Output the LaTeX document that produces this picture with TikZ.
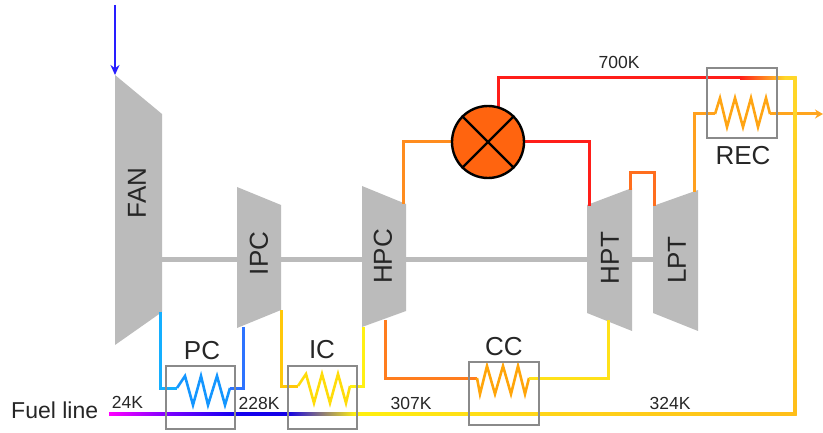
\documentclass[tikz,border=0pt]{standalone}
\usepackage{fontspec}
\setmainfont{Liberation Sans}
\usetikzlibrary{arrows.meta}
\definecolor{machine}{HTML}{BBBBBB}
\definecolor{boxgray}{HTML}{8A8A8A}
\definecolor{labelink}{HTML}{262626}
\tikzset{
  x=1pt,y=-1pt,
  machine/.style={fill=machine,draw=none},
  shaft/.style={draw=machine,line width=5.5pt},
  hxbox/.style={draw=boxgray,line width=2.8pt,fill=none},
  pipe/.style={line width=3pt,line join=miter},
  coil/.style={line width=2.6pt,line join=miter},
  biglabel/.style={text=labelink,font=\fontsize{26}{28}\selectfont,inner sep=0pt},
  midlabel/.style={text=labelink,font=\fontsize{23}{25}\selectfont,inner sep=0pt},
  smalllabel/.style={text=labelink,font=\fontsize{17.5}{19}\selectfont,inner sep=0pt},
  rotlabel/.style={biglabel,rotate=90},
}
\newcommand{\fuelbar}[4]{\shade[left color=#3,right color=#4,draw=none] (#1,412.5) rectangle (#2,415.5);}
\newcommand{\topbar}[4]{\shade[left color=#3,right color=#4,draw=none] (#1,76.5) rectangle (#2,79.5);}
\begin{document}
\begin{tikzpicture}
\useasboundingbox (0,0) rectangle (823,433);
% shaft
\coordinate (shaftL) at (158,259.5);
\coordinate (shaftR) at (655,259.5);
\draw[shaft] (shaftL) -- (shaftR);
% machines
\path[machine] (115,75) -- (162,114) -- (162,312) -- (115,345) -- cycle;
\path[machine] (237,187) -- (281,205) -- (281,310) -- (237,328) -- cycle;
\path[machine] (362,186) -- (406,204) -- (406,311) -- (362,327) -- cycle;
\path[machine] (587,205) -- (632,188) -- (632,331) -- (587,313) -- cycle;
\path[machine] (653,206) -- (698,190) -- (698,331) -- (653,313) -- cycle;
\node[rotlabel] (fan) at (137,193) {FAN};
\node[rotlabel] (ipc) at (259,253.5) {IPC};
\node[rotlabel] (hpc) at (383,256.5) {HPC};
\node[rotlabel] (hpt) at (610,258) {HPT};
\node[rotlabel] (lpt) at (677,260) {LPT};
% inlet
\coordinate (inlet) at (115,5);
\coordinate (fanin) at (115,75);
\draw[line width=2.6pt,color={rgb,255:red,40;green,30;blue,255},-{Stealth[length=10pt,width=9pt]}] (inlet) -- (fanin);
% PC loop
\draw[pipe,color={rgb,255:red,20;green,175;blue,255}] (160,312) -- (160,388) -- (177,388);
\draw[coil,color={rgb,255:red,20;green,150;blue,255}] (177,388) -- (185,376) -- (193,405) -- (201,376) -- (208,405) -- (217,376) -- (225,405) -- (230,388);
\draw[pipe,color={rgb,255:red,45;green,115;blue,255}] (230,388) -- (243,388) -- (243,327);
% IC loop
\draw[pipe,color={rgb,255:red,255;green,200;blue,10}] (281,310) -- (281,386) -- (298,386);
\draw[coil,color={rgb,255:red,255;green,220;blue,10}] (298,386) -- (306,374) -- (314,403) -- (322,374) -- (330,403) -- (338,374) -- (346,403) -- (350,386);
\draw[pipe,color={rgb,255:red,255;green,240;blue,20}] (350,386) -- (363,386) -- (363,327);
% CC loop
\draw[pipe,color={rgb,255:red,255;green,125;blue,30}] (385,320) -- (385,378) -- (477,378);
\draw[coil,color={rgb,255:red,255;green,165;blue,10}] (477,378) -- (480,394) -- (487,366) -- (495,394) -- (503,366) -- (511,394) -- (518,366) -- (525,394) -- (529,378);
\draw[pipe,color={rgb,255:red,255;green,225;blue,25}] (529,378) -- (608,378) -- (608,320);
% HPT to LPT
\draw[pipe,color={rgb,255:red,255;green,110;blue,30}] (630,190) -- (630,173) -- (654,173) -- (654,206);
% Top line into burner, then burner on top
\coordinate (topcorner) at (498.5,78);
\coordinate (topend) at (742,78);
\coordinate (topfoot) at (498.5,115);
\draw[pipe,color={rgb,255:red,255;green,30;blue,25}] (topfoot) -- (topcorner) -- (topend);
\coordinate (hpcout) at (403,204);
\coordinate (hptin) at (589,206);
\coordinate (burnerC) at (488,142);
\draw[pipe,color={rgb,255:red,255;green,140;blue,30}] (hpcout) -- (403,142) -- (burnerC);
\draw[pipe,color={rgb,255:red,255;green,30;blue,25}] (burnerC) -- (589,142) -- (hptin);
\node[circle,draw=black,line width=2.4pt,fill={rgb,255:red,255;green,100;blue,15},minimum size=72pt,inner sep=0pt] (burner) at (burnerC) {};
\draw[line width=2.4pt] (burner.45) -- (burner.225);
\draw[line width=2.4pt] (burner.135) -- (burner.315);
% REC loop
\draw[pipe,color={rgb,255:red,255;green,160;blue,30}] (694,192) -- (694,114) -- (715,114);
\draw[coil,color={rgb,255:red,255;green,165;blue,20}] (715,114) -- (720,98) -- (727,127) -- (735,98) -- (743,127) -- (751,98) -- (758,127) -- (766,98) -- (770,114);
\coordinate (out) at (823,114);
\draw[pipe,color={rgb,255:red,255;green,165;blue,30},-{Stealth[length=8pt,width=9pt]}] (770,114) -- (out);
% Fuel line
\fuelbar{109}{167}{magenta}{{rgb,255:red,125;green,0;blue,255}}
\fuelbar{167}{233}{{rgb,255:red,125;green,0;blue,255}}{{rgb,255:red,20;green,0;blue,240}}
\fuelbar{233}{288}{{rgb,255:red,20;green,0;blue,240}}{{rgb,255:red,20;green,0;blue,230}}
\fuelbar{288}{355}{{rgb,255:red,20;green,0;blue,230}}{{rgb,255:red,255;green,240;blue,15}}
\fuelbar{355}{520}{{rgb,255:red,255;green,240;blue,15}}{{rgb,255:red,255;green,215;blue,25}}
\fuelbar{520}{796.5}{{rgb,255:red,255;green,215;blue,25}}{{rgb,255:red,255;green,190;blue,25}}
\shade[top color={rgb,255:red,255;green,215;blue,40},bottom color={rgb,255:red,255;green,190;blue,25},draw=none] (793.5,76.5) rectangle (796.5,415.5);
\topbar{740}{785}{{rgb,255:red,255;green,30;blue,25}}{{rgb,255:red,255;green,215;blue,40}}
\topbar{785}{796.5}{{rgb,255:red,255;green,215;blue,40}}{{rgb,255:red,255;green,215;blue,40}}
% heat exchanger boxes
\node[hxbox,minimum width=69pt,minimum height=63pt,inner sep=0pt] (pcbox) at (200.5,397.5) {};
\node[hxbox,minimum width=69pt,minimum height=63pt,inner sep=0pt] (icbox) at (322.5,397.5) {};
\node[hxbox,minimum width=70pt,minimum height=63pt,inner sep=0pt] (ccbox) at (504,393.5) {};
\node[hxbox,minimum width=70pt,minimum height=70pt,inner sep=0pt] (recbox) at (742,103) {};
\node[biglabel] (pc) at (202,351) {PC};
\node[biglabel] (ic) at (322,350) {IC};
\node[biglabel] (cc) at (504,347) {CC};
\node[biglabel] (rec) at (743,156) {REC};
\node[midlabel,anchor=west] (fuel) at (11,410) {Fuel line};
\node[smalllabel] (t24) at (127.5,402) {24K};
\node[smalllabel] (t228) at (259,403) {228K};
\node[smalllabel] (t307) at (411,403) {307K};
\node[smalllabel] (t324) at (670,403) {324K};
\node[smalllabel] (t700) at (619,62) {700K};
\end{tikzpicture}
\end{document}
